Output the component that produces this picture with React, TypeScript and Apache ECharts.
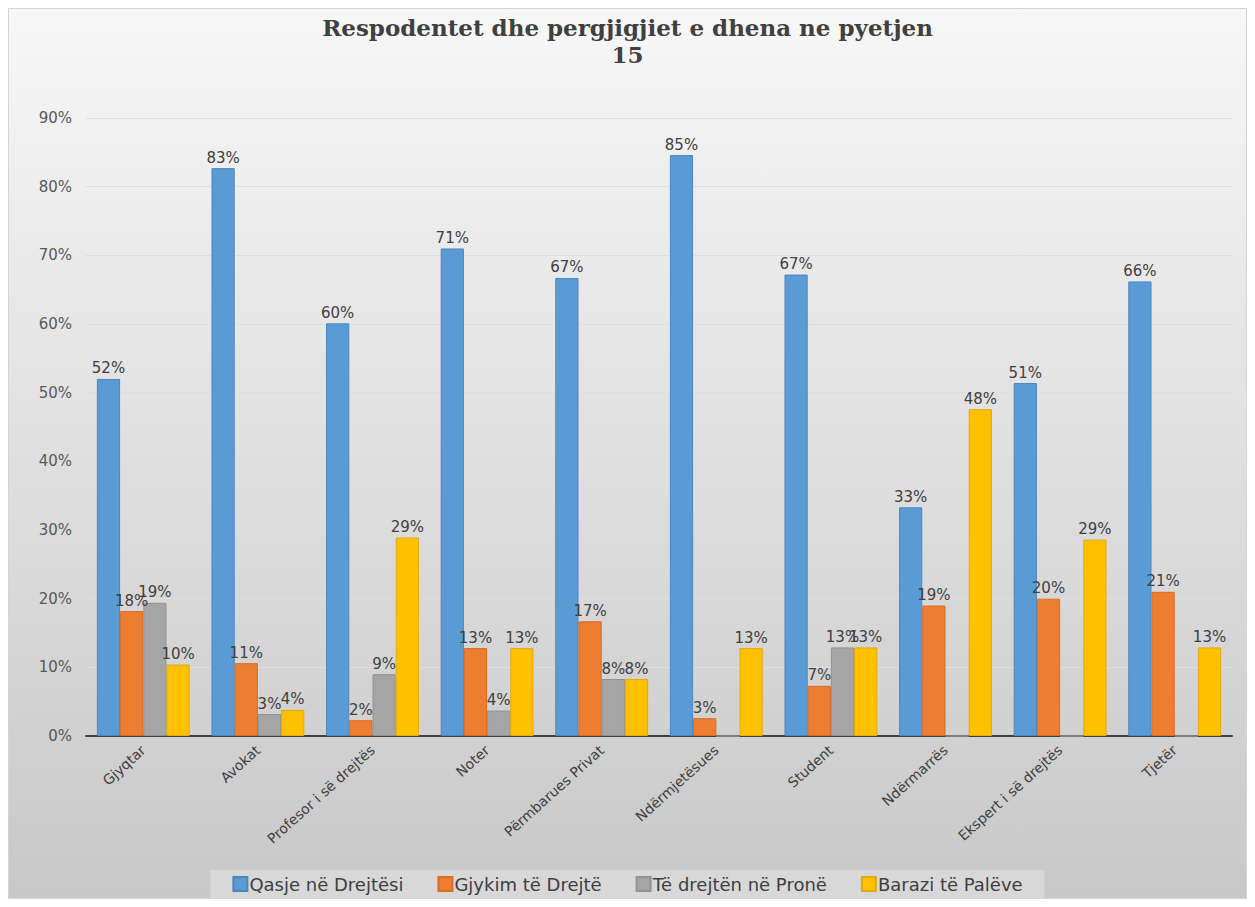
import React, { useEffect, useRef } from "react";
import * as echarts from "echarts";

const categories = [
  "Gjyqtar",
  "Avokat",
  "Profesor i së drejtës",
  "Noter",
  "Përmbarues Privat",
  "Ndërmjetësues",
  "Student",
  "Ndërmarrës",
  "Ekspert i së drejtës",
  "Tjetër",
];
const seriesNames = ["Qasje në Drejtësi", "Gjykim të Drejtë", "Të drejtën në Pronë", "Barazi të Palëve"];
const qasje = [52.0, 82.7, 60.1, 71.0, 66.7, 84.6, 67.2, 33.3, 51.4, 66.2];
const gjykim = [18.2, 10.6, 2.3, 12.8, 16.7, 2.6, 7.3, 19.0, 20.0, 21.0];
const prone = [19.4, 3.2, 9.0, 3.7, 8.3, 0, 12.9, 0, 0, 0];
const barazi = [10.4, 3.8, 28.9, 12.8, 8.3, 12.8, 12.9, 47.6, 28.6, 12.9];
const yTicks = [0, 10, 20, 30, 40, 50, 60, 70, 80, 90];

const colors = ["#5b9bd5", "#ed7d31", "#a5a5a5", "#ffc000"];
const borders = ["#4a86c0", "#d96c24", "#929292", "#e0aa10"];

export default function App() {
  const ref = useRef<HTMLDivElement>(null);
  useEffect(() => {
    if (!ref.current) return;
    const chart = echarts.init(ref.current, undefined, { renderer: "svg" });
    const data = [qasje, gjykim, prone, barazi];
    chart.setOption({
      animation: false,
      backgroundColor: new echarts.graphic.LinearGradient(0, 0, 0, 1, [
        { offset: 0, color: "#f7f7f7" },
        { offset: 1, color: "#c8c8c8" },
      ]),
      title: {
        text: "Respodentet dhe pergjigjiet e dhena ne pyetjen\n15",
        left: "center",
        top: 1,
        textStyle: {
          fontFamily: "DejaVu Serif",
          fontWeight: "bold",
          fontSize: 23,
          lineHeight: 27,
          color: "#404040",
        },
      },
      graphic: [
        {
          type: "rect",
          shape: { x: 0.5, y: 0.5, width: 1238, height: 890 },
          style: { fill: "none", stroke: "#d4d4d4", lineWidth: 1 },
          silent: true,
        },
      ],
      legend: {
        top: 862,
        left: "center",
        itemWidth: 14,
        itemHeight: 14,
        itemGap: 34,
        padding: [5, 22],
        backgroundColor: "#d8d8d8",
        icon: "rect",
        textStyle: { fontFamily: "DejaVu Sans", fontSize: 18, color: "#404040", padding: [0, 0, 0, -3] },
        data: seriesNames,
      },
      grid: { left: 78, right: 15, top: 110, bottom: 163 },
      xAxis: {
        type: "category",
        data: categories,
        axisLine: { lineStyle: { color: "#404040", width: 2 } },
        axisTick: { show: false },
        axisLabel: {
          rotate: 42,
          interval: 0,
          margin: 12,
          fontFamily: "DejaVu Sans",
          fontSize: 14,
          color: "#404040",
        },
      },
      yAxis: {
        type: "value",
        min: yTicks[0],
        max: yTicks[yTicks.length - 1],
        interval: 10,
        axisLine: { show: false },
        axisTick: { show: false },
        splitLine: { lineStyle: { color: "#dedede", width: 1 } },
        axisLabel: {
          formatter: (v: number) => v + "%",
          fontFamily: "DejaVu Sans",
          fontSize: 15,
          color: "#595959",
          margin: 14,
        },
      },
      series: seriesNames.map((name, i) => ({
        name,
        type: "bar",
        data: data[i],
        barGap: "0%",
        barCategoryGap: "19%",
        itemStyle: { color: colors[i], borderColor: borders[i], borderWidth: 1 },
        label: {
          show: true,
          position: "top",
          distance: 3,
          fontFamily: "DejaVu Sans",
          fontSize: 15,
          color: "#404040",
          formatter: (p: any) => (p.value > 0 ? Math.round(p.value) + "%" : ""),
        },
      })),
    });
    return () => chart.dispose();
  }, []);
  return <div ref={ref} style={{ width: 1239, height: 891 }} />;
}
